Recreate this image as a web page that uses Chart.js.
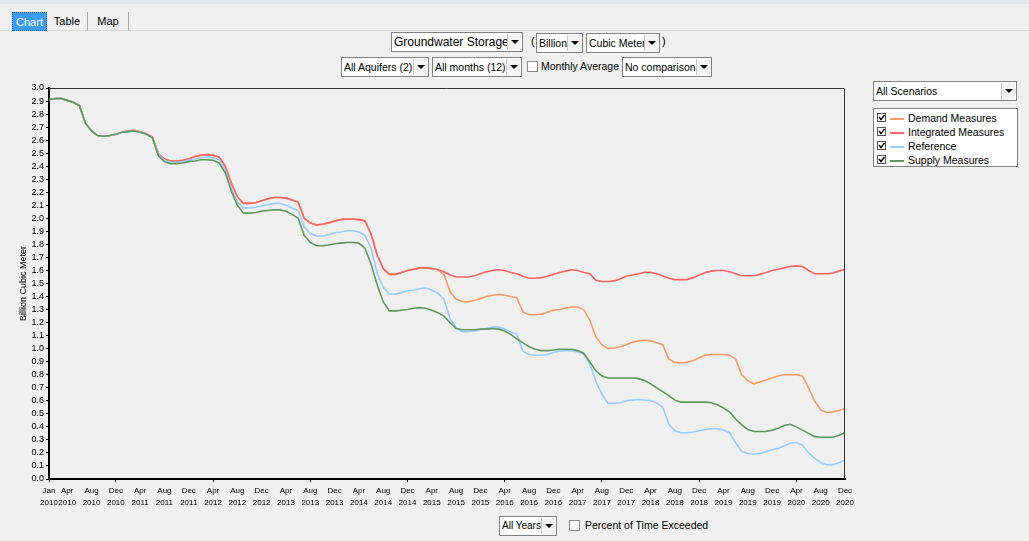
<!DOCTYPE html>
<html>
<head>
<meta charset="utf-8">
<script src="https://cdn.jsdelivr.net/npm/chart.js@4.4.1/dist/chart.umd.min.js"></script>
<style>
  body { margin:0; width:1029px; height:541px; background:#f0f0f0; font-family:"Liberation Sans", Arial, sans-serif; font-size:10.5px; color:#000; overflow:hidden; position:relative; }
  .abs { position:absolute; }
  .topbar { left:0; top:0; width:1029px; height:4px; background:#e4e7f0; }
  .tabline { left:0; top:30px; width:1029px; height:1px; background:#d8d8d8; }
  .tab { top:12px; height:19px; line-height:18px; font-size:11px; text-align:center; box-sizing:border-box; }
  .tab.on { background:#3c9cf0; color:#fff; border:1px dotted #1c5c9c; }
  .tab.off { border-right:1px solid #a8a8a8; }
  .sel { height:20px; border:1px solid #828282; background:#fff; box-sizing:border-box; line-height:18px; padding-left:2px; white-space:nowrap; overflow:hidden; }
  .sel .btn { position:absolute; right:1px; top:1px; width:14px; height:16px; background:#f4f4f4; border-left:1px solid #c8c8c8; box-sizing:border-box; }
  .sel .btn::after { content:''; position:absolute; left:3px; top:6px; border-left:4px solid transparent; border-right:4px solid transparent; border-top:4px solid #000; }
  .chk { width:11px; height:11px; border:1px solid #8a8a8a; background:#fff; box-sizing:border-box; }
  #wrap { left:0; top:80px; width:860px; height:435px; }
  #legend { left:873px; top:108px; width:145px; height:59px; border:1px solid #828282; background:#fff; box-sizing:border-box; }
  .row { position:absolute; left:3px; height:14px; line-height:14px; white-space:nowrap; }
  .row .box { position:absolute; left:0; top:2px; width:9px; height:9px; border:1px solid #555; box-sizing:border-box; background:#fff; }
  .row .sw { position:absolute; left:13px; top:7px; width:14px; height:2px; }
  .row span.t { position:absolute; left:31px; top:0; }
</style>
</head>
<body>
<div class="abs topbar"></div>
<div class="abs tabline"></div>
<div class="abs tab on" style="left:12px;width:35px;">Chart</div>
<div class="abs tab off" style="left:47px;width:41px;">Table</div>
<div class="abs tab off" style="left:88px;width:41px;">Map</div>

<div class="abs sel" style="left:391px;top:32px;width:132px;font-size:12px;">Groundwater Storage<div class="btn"></div></div>
<div class="abs" style="left:531px;top:35px;font-size:11px;">(</div>
<div class="abs sel" style="left:536px;top:33px;width:47px;">Billion<div class="btn"></div></div>
<div class="abs sel" style="left:586px;top:33px;width:74px;">Cubic Meter<div class="btn"></div></div>
<div class="abs" style="left:662px;top:35px;font-size:11px;">)</div>

<div class="abs sel" style="left:341px;top:57px;width:88px;">All Aquifers (2)<div class="btn"></div></div>
<div class="abs sel" style="left:432px;top:57px;width:90px;">All months (12)<div class="btn"></div></div>
<div class="abs chk" style="left:527px;top:61px;"></div>
<div class="abs" style="left:541px;top:60px;">Monthly Average</div>
<div class="abs sel" style="left:622px;top:57px;width:90px;">No comparison<div class="btn"></div></div>

<div class="abs sel" style="left:873px;top:81px;width:144px;">All Scenarios<div class="btn"></div></div>
<div class="abs" id="legend"></div>

<div class="abs sel" style="left:499px;top:516px;width:58px;font-size:10px;">All Years<div class="btn"></div></div>
<div class="abs chk" style="left:569px;top:520px;"></div>
<div class="abs" style="left:585px;top:519px;">Percent of Time Exceeded</div>

<div class="abs" id="wrap"><canvas id="chart"></canvas></div>

<script>
const years = [2010, 2011, 2012, 2013, 2014, 2015, 2016, 2017, 2018, 2019, 2020];
const monthNames = ['Jan','Feb','Mar','Apr','May','Jun','Jul','Aug','Sep','Oct','Nov','Dec'];
const months = [];
years.forEach(y => monthNames.forEach(m => months.push(m + ' ' + y)));

const tickLabels = ['Jan 2010','Apr 2010','Aug 2010','Dec 2010','Apr 2011','Aug 2011','Dec 2011',
  'Apr 2012','Aug 2012','Dec 2012','Apr 2013','Aug 2013','Dec 2013','Apr 2014','Aug 2014','Dec 2014',
  'Apr 2015','Aug 2015','Dec 2015','Apr 2016','Aug 2016','Dec 2016','Apr 2017','Aug 2017','Dec 2017',
  'Apr 2018','Aug 2018','Dec 2018','Apr 2019','Aug 2019','Dec 2019','Apr 2020','Aug 2020','Dec 2020'];

const seriesNames = ['Demand Measures', 'Integrated Measures', 'Reference', 'Supply Measures'];
const seriesColors = ['#ff9a66', '#ff6464', '#99ccff', '#5f985f'];

const demand = [
  2.91, 2.92, 2.92, 2.905, 2.89, 2.865, 2.73, 2.67, 2.635, 2.63, 2.635, 2.645,
  2.66, 2.67, 2.675, 2.665, 2.65, 2.625, 2.495, 2.455, 2.44, 2.44, 2.445, 2.455,
  2.475, 2.485, 2.49, 2.485, 2.47, 2.40, 2.27, 2.165, 2.115, 2.115, 2.12, 2.135,
  2.15, 2.16, 2.16, 2.155, 2.14, 2.125, 2.0, 1.965, 1.95, 1.955, 1.965, 1.98,
  1.99, 1.995, 1.995, 1.99, 1.98, 1.88, 1.72, 1.615, 1.57, 1.57, 1.585, 1.60,
  1.61, 1.62, 1.62, 1.615, 1.605, 1.57, 1.44, 1.38, 1.36, 1.36, 1.37, 1.385,
  1.40, 1.41, 1.415, 1.41, 1.40, 1.39, 1.28, 1.26, 1.26, 1.265, 1.28, 1.295,
  1.30, 1.31, 1.32, 1.32, 1.30, 1.22, 1.09, 1.03, 1.00, 1.005, 1.015, 1.03,
  1.05, 1.06, 1.065, 1.06, 1.045, 1.03, 0.92, 0.895, 0.89, 0.895, 0.91, 0.93,
  0.95, 0.955, 0.955, 0.955, 0.95, 0.92, 0.80, 0.755, 0.73, 0.745, 0.76, 0.775,
  0.79, 0.80, 0.80, 0.80, 0.79, 0.70, 0.60, 0.53, 0.51, 0.515, 0.525, 0.54
];
const integrated = [
  2.91, 2.92, 2.92, 2.905, 2.89, 2.865, 2.73, 2.67, 2.635, 2.63, 2.635, 2.645,
  2.66, 2.67, 2.675, 2.665, 2.65, 2.625, 2.495, 2.455, 2.44, 2.44, 2.445, 2.455,
  2.475, 2.485, 2.49, 2.485, 2.47, 2.40, 2.27, 2.165, 2.115, 2.115, 2.12, 2.135,
  2.15, 2.16, 2.16, 2.155, 2.14, 2.125, 2.0, 1.965, 1.95, 1.955, 1.965, 1.98,
  1.99, 1.995, 1.995, 1.99, 1.98, 1.88, 1.72, 1.615, 1.57, 1.57, 1.585, 1.60,
  1.61, 1.62, 1.62, 1.615, 1.605, 1.59, 1.565, 1.55, 1.55, 1.55, 1.56, 1.575,
  1.59, 1.60, 1.605, 1.60, 1.585, 1.575, 1.555, 1.54, 1.54, 1.545, 1.555, 1.57,
  1.585, 1.595, 1.605, 1.60, 1.585, 1.575, 1.525, 1.515, 1.515, 1.52, 1.535, 1.555,
  1.565, 1.575, 1.585, 1.585, 1.575, 1.56, 1.54, 1.53, 1.53, 1.53, 1.545, 1.565,
  1.585, 1.595, 1.60, 1.60, 1.59, 1.575, 1.56, 1.56, 1.56, 1.57, 1.585, 1.60,
  1.61, 1.62, 1.63, 1.635, 1.63, 1.60, 1.575, 1.575, 1.575, 1.58, 1.595, 1.61
];
const reference = [
  2.91, 2.92, 2.92, 2.905, 2.89, 2.865, 2.73, 2.67, 2.635, 2.63, 2.635, 2.645,
  2.66, 2.665, 2.67, 2.66, 2.645, 2.62, 2.49, 2.445, 2.43, 2.43, 2.435, 2.445,
  2.455, 2.465, 2.47, 2.465, 2.45, 2.37, 2.23, 2.125, 2.08, 2.08, 2.085, 2.095,
  2.105, 2.115, 2.115, 2.10, 2.08, 2.06, 1.935, 1.885, 1.865, 1.865, 1.875, 1.89,
  1.895, 1.905, 1.905, 1.895, 1.87, 1.77, 1.58, 1.47, 1.42, 1.42, 1.43, 1.445,
  1.45, 1.46, 1.465, 1.45, 1.425, 1.38, 1.23, 1.16, 1.13, 1.13, 1.135, 1.15,
  1.155, 1.165, 1.165, 1.15, 1.13, 1.11, 0.98, 0.955, 0.95, 0.95, 0.955, 0.97,
  0.98, 0.985, 0.985, 0.975, 0.96, 0.88, 0.75, 0.65, 0.58, 0.58, 0.585, 0.60,
  0.605, 0.61, 0.605, 0.60, 0.585, 0.55, 0.42, 0.37, 0.355, 0.355, 0.36, 0.37,
  0.38, 0.385, 0.385, 0.375, 0.355, 0.28, 0.21, 0.195, 0.19, 0.195, 0.21, 0.225,
  0.235, 0.255, 0.275, 0.28, 0.26, 0.20, 0.16, 0.125, 0.11, 0.11, 0.125, 0.145
];
const supply = [
  2.91, 2.92, 2.92, 2.905, 2.89, 2.865, 2.73, 2.67, 2.635, 2.63, 2.635, 2.645,
  2.66, 2.665, 2.67, 2.66, 2.645, 2.62, 2.48, 2.435, 2.42, 2.42, 2.425, 2.435,
  2.44, 2.45, 2.45, 2.445, 2.425, 2.35, 2.21, 2.10, 2.04, 2.04, 2.045, 2.055,
  2.06, 2.065, 2.065, 2.055, 2.03, 2.0, 1.87, 1.815, 1.79, 1.79, 1.795, 1.805,
  1.81, 1.815, 1.815, 1.81, 1.77, 1.65, 1.49, 1.36, 1.29, 1.29, 1.295, 1.30,
  1.31, 1.315, 1.31, 1.295, 1.275, 1.25, 1.20, 1.155, 1.145, 1.145, 1.145, 1.15,
  1.15, 1.155, 1.15, 1.135, 1.11, 1.075, 1.045, 1.015, 0.995, 0.985, 0.985, 0.99,
  0.995, 0.995, 0.995, 0.985, 0.965, 0.90, 0.83, 0.79, 0.775, 0.775, 0.775, 0.775,
  0.775, 0.77, 0.755, 0.73, 0.70, 0.67, 0.64, 0.605, 0.59, 0.59, 0.59, 0.59,
  0.59, 0.585, 0.57, 0.545, 0.515, 0.46, 0.415, 0.38, 0.365, 0.365, 0.365, 0.375,
  0.39, 0.41, 0.42, 0.40, 0.375, 0.35, 0.325, 0.32, 0.32, 0.32, 0.335, 0.355
];
const seriesValues = [demand, integrated, reference, supply];

// legend box on the right, with the little checkboxes
const legend = document.getElementById('legend');
seriesNames.forEach((name, i) => {
  const row = document.createElement('div');
  row.className = 'row';
  row.style.top = (2 + i * 14) + 'px';
  row.innerHTML = '<div class="box"><svg width="7" height="7" style="position:absolute;left:0;top:0"><polyline points="1,3 3,5.5 6.5,1" fill="none" stroke="#000" stroke-width="1.4"/></svg></div>' +
    '<div class="sw" style="background:' + seriesColors[i] + '"></div><span class="t">' + name + '</span>';
  legend.appendChild(row);
});

const frame = {
  id: 'frame',
  afterDatasetsDraw(chart) {
    const { ctx, chartArea: a } = chart;
    ctx.save();
    ctx.strokeStyle = '#333';
    ctx.lineWidth = 1;
    ctx.beginPath();
    ctx.moveTo(a.left, a.top + 0.5);
    ctx.lineTo(a.right - 0.5, a.top + 0.5);
    ctx.lineTo(a.right - 0.5, a.bottom);
    ctx.stroke();
    ctx.restore();
  }
};

const shown = i => tickLabels.includes(months[i]);

new Chart(document.getElementById('chart'), {
  type: 'line',
  data: {
    labels: months,
    datasets: seriesNames.map((name, i) => ({
      label: name,
      data: seriesValues[i],
      borderColor: seriesColors[i],
      backgroundColor: seriesColors[i],
      borderWidth: 1.6,
      pointRadius: 0,
      tension: 0,
      order: 4 - i
    }))
  },
  options: {
    responsive: true,
    maintainAspectRatio: false,
    animation: false,
    layout: { padding: { top: 8, right: 15, left: 0, bottom: 0 } },
    plugins: { legend: { display: false }, tooltip: { enabled: false } },
    scales: {
      x: {
        grid: {
          drawOnChartArea: false,
          tickLength: 3,
          color: c => shown(c.index) ? '#000' : 'rgba(0,0,0,0)'
        },
        border: { color: '#000', width: 2 },
        ticks: {
          autoSkip: false,
          maxRotation: 0,
          padding: 3,
          color: '#000',
          font: { family: 'Liberation Sans', size: 8, lineHeight: 1.45 },
          callback: function (v, i) {
            return shown(i) ? months[i].split(' ') : null;
          }
        },
        afterFit: s => { s.height = 36; }
      },
      y: {
        min: 0,
        max: 3,
        grid: { drawOnChartArea: false, tickLength: 3, color: '#000' },
        border: { color: '#000', width: 2 },
        ticks: {
          stepSize: 0.1,
          autoSkip: false,
          padding: 2,
          color: '#000',
          font: { family: 'Liberation Sans', size: 9 },
          callback: v => v.toFixed(1)
        },
        title: {
          display: true,
          text: 'Billion Cubic Meter',
          color: '#000',
          font: { family: 'Liberation Sans', size: 9 },
          padding: { top: 18, bottom: 0 }
        },
        afterFit: s => { s.width = 49; }
      }
    }
  },
  plugins: [frame]
});
</script>
</body>
</html>
